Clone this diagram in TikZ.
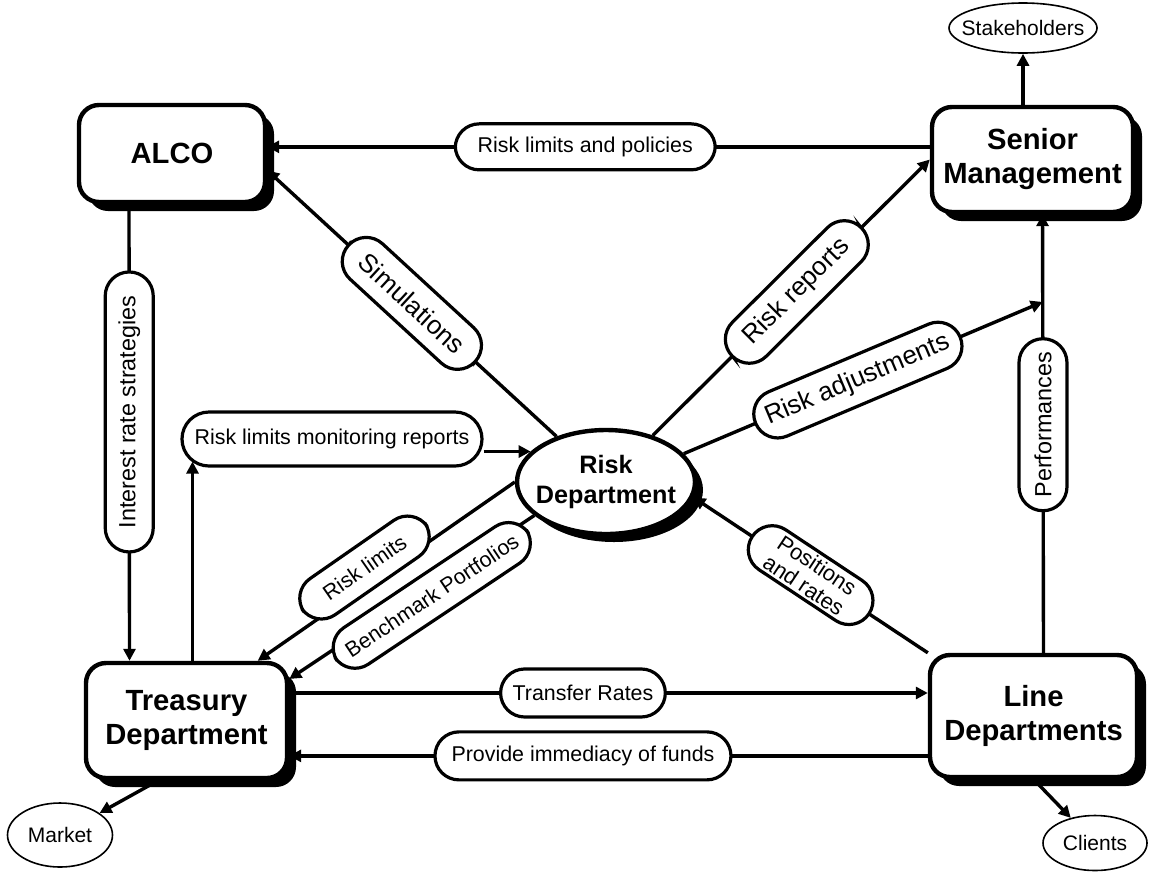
\documentclass[tikz,border=0pt]{standalone}
\usepackage{fontspec}
\setmainfont{Liberation Sans}
\usepackage{tikz}
\usetikzlibrary{arrows.meta,calc,shapes.geometric,shadows}

\begin{document}
\begin{tikzpicture}[x=0.5pt, y=-0.5pt,
    box/.style={draw, line width=2.2pt, rounded corners=10pt, fill=white, inner sep=0pt, align=center,
      font=\fontsize{14.6}{17}\selectfont\bfseries,
      drop shadow={shadow xshift=4.5pt, shadow yshift=-4.5pt, opacity=1, fill=black}},
    riskell/.style={draw, ellipse, line width=2.2pt, fill=white, inner xsep=-6pt, inner ysep=0pt, align=center,
      font=\fontsize{12.6}{15}\selectfont\bfseries,
      drop shadow={shadow xshift=4pt, shadow yshift=-4pt, opacity=1, fill=black}},
    outside/.style={draw, ellipse, line width=0.8pt, inner xsep=-5pt, inner ysep=0pt, font=\fontsize{10.5}{12}\selectfont},
    pill/.style={draw, fill=white, line width=1.6pt, rounded corners=12pt, inner xsep=6pt, inner ysep=0pt,
      minimum height=24pt, align=center, font=\fontsize{10.7}{12.5}\selectfont},
    bigpill/.style={pill, font=\fontsize{13}{15}\selectfont},
    link/.style={line width=1.7pt},
    flow/.style={link, -{Triangle[length=6pt, width=6pt]}}]
  \useasboundingbox (0,0) rectangle (1154,873);

  % boxes
  \node[box, minimum width=93pt, minimum height=48.5pt] (alco) at (172,153.5) {ALCO};
  \node[box, minimum width=100.5pt, minimum height=52.5pt] (senior) at (1032.5,159.5) {Senior\\Management};
  \node[box, minimum width=100.5pt, minimum height=57.5pt] (treasury) at (186.5,720.5) {Treasury\\Department};
  \node[box, minimum width=103.5pt, minimum height=61pt] (linedept) at (1033.5,716) {Line\\Departments};
  \node[riskell, minimum width=89pt, minimum height=52pt] (riskdept) at (606,482) {Risk\\Department};

  % outside parties
  \node[outside, minimum width=74pt, minimum height=25pt] (stake) at (1023,28) {Stakeholders};
  \node[outside, minimum width=52.5pt, minimum height=32pt] (market) at (60,835) {Market};
  \node[outside, minimum width=52pt, minimum height=27.5pt] (clients) at (1095,843) {Clients};

  \node[pill, minimum width=150pt, minimum height=27pt, rounded corners=13.5pt] (monitor) at (332,439) {Risk limits monitoring reports};

  % flows
  \draw[flow] (alco.4 -| senior.west) -- node[pill, pos=0.52, minimum width=130pt, minimum height=23pt] {Risk limits and policies} (alco.4);
  \draw[flow] ([xshift=-21.5pt]alco.south) -- node[pill, rotate=90, pos=0.455, minimum width=140pt, font=\fontsize{11.7}{13}\selectfont] {Interest rate strategies} ([xshift=-28.5pt]treasury.north);
  \draw[flow] (riskdept) -- node[bigpill, sloped, pos=0.5, minimum width=86pt] {Simulations} (alco.-10);
  \draw[flow] (riskdept) -- node[bigpill, sloped, pos=0.52, minimum width=91pt] {Risk reports} (senior.west);

  \coordinate (perfbot) at ([xshift=5pt]linedept.north);
  \coordinate (perftop) at ([xshift=5pt]senior.south);
  \coordinate (adj) at ($(perfbot)!0.8!(perftop)$);
  \draw[flow] (perfbot) -- node[pill, rotate=90, pos=0.52, minimum width=86pt, font=\fontsize{11.7}{13}\selectfont] {Performances} (perftop);
  \draw[flow] (riskdept.20) -- node[bigpill, sloped, pos=0.485, minimum width=103pt] {Risk adjustments} (adj);
  \draw[flow] (linedept.north west) -- node[pill, sloped, pos=0.5, minimum width=70pt, font=\fontsize{11}{12}\selectfont] {Positions\\and rates} (riskdept.-10);

  \draw[flow] (riskdept.west) -- node[pill, sloped, pos=0.55, above=-4pt, minimum width=75pt, minimum height=22pt] {Risk limits} (treasury.40);
  \draw[flow] (riskdept.205) -- node[pill, sloped, pos=0.44, below=-7pt, minimum width=115pt, minimum height=22pt] {Benchmark Portfolios} (treasury.22);

  \draw[flow, shorten >=-3pt] ([xshift=3pt]treasury.north) -- ([xshift=3pt]treasury.north |- monitor.south);
  \draw[flow] (monitor.east |- riskdept.158) -- (riskdept.158);

  \draw[flow] (treasury.15) -- node[pill, pos=0.46, minimum width=82pt] {Transfer Rates} (treasury.15 -| linedept.west);
  \draw[flow] (treasury.-19 -| linedept.west) -- node[pill, pos=0.54, minimum width=148pt] {Provide immediacy of funds} (treasury.-19);

  \draw[flow] (senior.north -| stake.south) -- (stake.south);
  \draw[flow] (treasury.-115) -- (market);
  \draw[flow] (linedept.south) -- (clients);
\end{tikzpicture}
\end{document}
